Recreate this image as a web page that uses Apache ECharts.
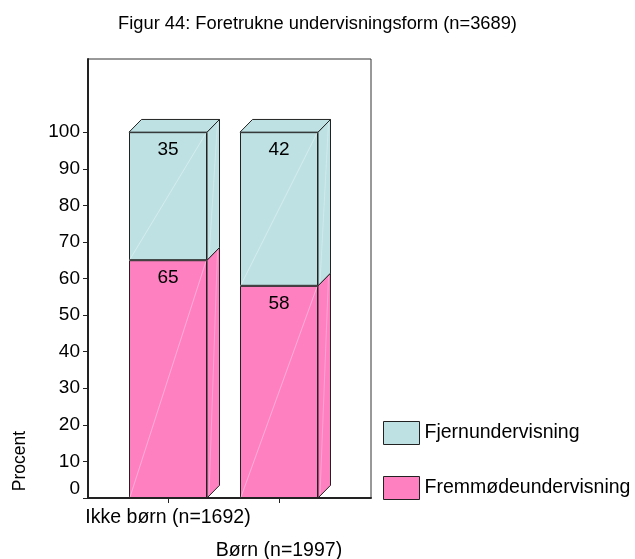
<!DOCTYPE html>
<html>
<head>
<meta charset="utf-8">
<script src="https://cdn.jsdelivr.net/npm/echarts@6/dist/echarts.min.js"></script>
<style>
  html, body { margin: 0; padding: 0; background: #fff; }
  #chart { width: 635px; height: 559px; }
</style>
</head>
<body>
<div id="chart"></div>
<script>
// Stacked percentages per group
const categories = ['Ikke børn (n=1692)', 'Børn (n=1997)'];
const fremmode = [65, 58];          // Fremmødeundervisning
const fjern = [35, 42];             // Fjernundervisning
const yTicks = [0, 10, 20, 30, 40, 50, 60, 70, 80, 90, 100];

const PINK = '#ff80c0';
const CYAN = '#bee1e4';
const EDGE = '#222';
const FONT = "'Liberation Sans', Arial, sans-serif";
const BAR_W = 78;
const DX = 12.5, DY = 12.7;   // depth offset of the pseudo-3D blocks

// Segments for the depth faces: [category, low, high, colour index, is top segment]
const segments = [];
categories.forEach((c, i) => {
  segments.push([i, 0, fremmode[i], 0, 0]);
  segments.push([i, fremmode[i], fremmode[i] + fjern[i], 1, 1]);
});
const segColors = [PINK, CYAN];

const chart = echarts.init(document.getElementById('chart'));

chart.setOption({
  animation: false,
  backgroundColor: '#fff',
  textStyle: { fontFamily: FONT },
  title: {
    text: 'Figur 44: Foretrukne undervisningsform (n=3689)',
    left: 'center',
    top: 15,
    padding: 0,
    textStyle: { fontFamily: FONT, fontSize: 18.3, fontWeight: 'normal', color: '#000' }
  },
  legend: {
    data: ['Fjernundervisning', 'Fremmødeundervisning'],
    orient: 'vertical',
    left: 383,
    top: 421,
    padding: 0,
    itemWidth: 36,
    itemHeight: 23,
    itemGap: 31,
    icon: 'rect',
    itemStyle: { borderColor: EDGE, borderWidth: 1 },
    textStyle: { fontFamily: FONT, fontSize: 19.5, color: '#000' }
  },
  grid: [
    { // frame with the value axis
      left: 88, top: 59, width: 283, height: 439,
      show: true, borderColor: '#333', borderWidth: 1,
      outerBoundsMode: 'none', containLabel: false
    },
    { // band holding the two columns
      left: 112.5, top: 59, width: 222, height: 439,
      outerBoundsMode: 'none', containLabel: false
    }
  ],
  xAxis: [
    {
      gridIndex: 0, type: 'value', min: 0, max: 1,
      axisLine: { show: true, lineStyle: { color: EDGE, width: 2 } },
      axisTick: { show: false }, axisLabel: { show: false }, splitLine: { show: false }
    },
    {
      gridIndex: 1, type: 'category', data: categories,
      axisLine: { show: false },
      axisTick: { show: true, alignWithLabel: true, length: 5, lineStyle: { color: EDGE, width: 1 } },
      axisLabel: {
        interval: 0,
        margin: 3.5,
        fontFamily: FONT, fontSize: 19.5, color: '#000',
        lineHeight: 33,
        formatter: (v, i) => (i === 1 ? '\n' + v : v)
      }
    }
  ],
  yAxis: [
    {
      gridIndex: 0, type: 'value', min: 0, max: 120, interval: 10,
      axisLine: { show: true, lineStyle: { color: EDGE, width: 2 } },
      axisTick: { show: true, length: 5, lineStyle: { color: EDGE }, customValues: yTicks },
      axisLabel: {
        customValues: yTicks,
        margin: 8,
        fontFamily: FONT, fontSize: 19, color: '#000',
        formatter: v => (v === 0 ? '{z|0}' : String(v)),
        rich: { z: { fontFamily: FONT, fontSize: 19, color: '#000', padding: [0, 0, 18, 0] } }
      },
      splitLine: { show: false }
    },
    {
      gridIndex: 1, type: 'value', min: 0, max: 120, show: false
    }
  ],
  graphic: [
    {
      type: 'text',
      x: 20, y: 461,
      rotation: Math.PI / 2,
      style: {
        text: 'Procent',
        fontFamily: FONT, fontSize: 17.5, fill: '#000',
        textAlign: 'center', textVerticalAlign: 'middle'
      }
    }
  ],
  series: [
    {
      name: 'Fremmødeundervisning',
      type: 'bar', stack: 'total',
      xAxisIndex: 1, yAxisIndex: 1,
      barWidth: BAR_W,
      data: fremmode,
      z: 2,
      itemStyle: { color: PINK, borderColor: EDGE, borderWidth: 1 },
      label: {
        show: true, position: 'insideTop', distance: 8,
        fontFamily: FONT, fontSize: 19, lineHeight: 19, color: '#000'
      }
    },
    {
      name: 'Fjernundervisning',
      type: 'bar', stack: 'total',
      xAxisIndex: 1, yAxisIndex: 1,
      barWidth: BAR_W,
      data: fjern,
      z: 2,
      itemStyle: { color: CYAN, borderColor: EDGE, borderWidth: 1 },
      label: {
        show: true, position: 'insideTop', distance: 8,
        fontFamily: FONT, fontSize: 19, lineHeight: 19, color: '#000'
      }
    },
    {
      // side and top faces giving the columns depth, plus a faint sheen
      type: 'custom',
      xAxisIndex: 1, yAxisIndex: 1,
      silent: true,
      z: 3,
      data: segments,
      encode: { x: 0, y: [1, 2] },
      renderItem: (params, api) => {
        const i = api.value(0);
        const lo = api.value(1), hi = api.value(2);
        const fill = segColors[api.value(3)];
        const isTop = api.value(4) === 1;
        const pLo = api.coord([i, lo]);
        const pHi = api.coord([i, hi]);
        const xl = pLo[0] - BAR_W / 2, xr = pLo[0] + BAR_W / 2;
        const yb = pLo[1], yt = pHi[1];
        const children = [
          {
            type: 'polygon',
            shape: { points: [[xr, yb], [xr + DX, yb - DY], [xr + DX, yt - DY], [xr, yt]] },
            style: { fill: fill, stroke: EDGE, lineWidth: 1 }
          },
          {
            type: 'line',
            shape: { x1: xl + 1, y1: yb - 1, x2: xr - 1, y2: yt + 1 },
            style: { stroke: 'rgba(255,255,255,0.45)', lineWidth: 0.8 }
          },
          {
            type: 'line',
            shape: { x1: xr + 2, y1: yb - 3, x2: xr + DX - 2, y2: yt - DY + 3 },
            style: { stroke: 'rgba(255,255,255,0.35)', lineWidth: 0.8 }
          }
        ];
        if (isTop) {
          children.push({
            type: 'polygon',
            shape: { points: [[xl, yt], [xl + DX, yt - DY], [xr + DX, yt - DY], [xr, yt]] },
            style: { fill: fill, stroke: EDGE, lineWidth: 1 }
          });
        }
        return { type: 'group', children: children };
      }
    }
  ]
});
</script>
</body>
</html>
